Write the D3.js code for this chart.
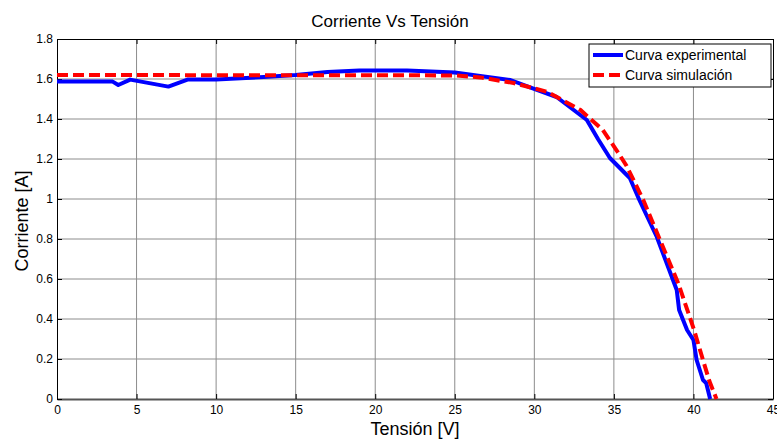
<!DOCTYPE html>
<html><head><meta charset="utf-8">
<script src="https://cdn.jsdelivr.net/npm/d3@7"></script>
<style>body{margin:0;background:#fff;} text{font-family:"Liberation Sans",Arial,sans-serif;fill:#000;}</style>
</head><body>
<svg id="c" width="777" height="439"></svg>
<script>
const title = "Corriente Vs Tensión";
const xLabel = "Tensión [V]";
const yLabel = "Corriente [A]";
const seriesNames = ["Curva experimental", "Curva simulación"];
const xTicks = [0,5,10,15,20,25,30,35,40,45];
const yTicks = [0,0.2,0.4,0.6,0.8,1,1.2,1.4,1.6,1.8];
const expV = [0, 3.5, 3.85, 4.6, 7.0, 8.2, 10, 13, 15, 17, 19, 22, 25, 26.6, 28.5, 29.9, 31.4, 33.3, 34.0, 34.75, 36.0, 36.6, 37.7, 38.95, 39.1, 39.6, 40.0, 40.2, 40.6, 40.8, 41.05];
const expI = [1.587, 1.587, 1.57, 1.597, 1.562, 1.597, 1.598, 1.61, 1.62, 1.635, 1.643, 1.643, 1.633, 1.615, 1.595, 1.553, 1.51, 1.395, 1.3, 1.205, 1.105, 0.995, 0.81, 0.545, 0.445, 0.345, 0.295, 0.195, 0.095, 0.08, 0];
const simV = [0, 25, 26.6, 28.7, 30.8, 32.9, 34.3, 35.2, 35.8, 36.85, 37.9, 39.05, 40.04, 40.6, 41.0, 41.45];
const simI = [1.62, 1.618, 1.608, 1.58, 1.536, 1.445, 1.345, 1.24, 1.165, 0.995, 0.795, 0.578, 0.345, 0.195, 0.09, 0];

const svg = d3.select("#c");
const L = 57, R = 773, T = 39, B = 399;
const x = d3.scaleLinear().domain([0,45]).range([L,R]);
const y = d3.scaleLinear().domain([0,1.8]).range([B,T]);

// grid
svg.append("g").selectAll("line").data(xTicks.slice(1,-1)).join("line")
  .attr("x1",d=>x(d)).attr("x2",d=>x(d)).attr("y1",T).attr("y2",B)
  .attr("stroke","#8c8c8c").attr("stroke-width",1);
svg.append("g").selectAll("line").data(yTicks.slice(1,-1)).join("line")
  .attr("y1",d=>y(d)).attr("y2",d=>y(d)).attr("x1",L).attr("x2",R)
  .attr("stroke","#8c8c8c").attr("stroke-width",1);

// axes
const fmt = d => String(d);
const xa = svg.append("g").attr("transform",`translate(0,${B})`)
  .call(d3.axisBottom(x).tickValues(xTicks).tickFormat(fmt).tickSizeInner(-5).tickSizeOuter(0).tickPadding(8));
const xt = svg.append("g").attr("transform",`translate(0,${T})`)
  .call(d3.axisTop(x).tickValues(xTicks).tickFormat("").tickSizeInner(-5).tickSizeOuter(0));
const ya = svg.append("g").attr("transform",`translate(${L},0)`)
  .call(d3.axisLeft(y).tickValues(yTicks).tickFormat(fmt).tickSizeInner(-5).tickSizeOuter(0).tickPadding(4));
const yr = svg.append("g").attr("transform",`translate(${R},0)`)
  .call(d3.axisRight(y).tickValues(yTicks).tickFormat("").tickSizeInner(-5).tickSizeOuter(0));
[xa,xt,ya,yr].forEach(g=>{
  g.select(".domain").attr("stroke","#000").attr("stroke-width",1);
  g.selectAll(".tick line").attr("stroke","#000");
  g.selectAll(".tick text").attr("font-size",12).attr("font-family","Liberation Sans, Arial, sans-serif").attr("fill","#000");
});
xa.select(".domain").attr("stroke","#555").attr("stroke-width",2);
xa.selectAll(".tick text").attr("dy","0.6em");

// lines
const line = d3.line().x(d=>x(d[0])).y(d=>y(d[1]));
const expData = expV.map((v,i)=>[v,expI[i]]);
const simData = simV.map((v,i)=>[v,simI[i]]);
svg.append("path").datum(expData).attr("d",line).attr("fill","none")
  .attr("stroke","#0000ff").attr("stroke-width",4).attr("stroke-linejoin","round");
svg.append("path").datum(simData).attr("d",line).attr("fill","none")
  .attr("stroke","#ff0000").attr("stroke-width",4).attr("stroke-dasharray","11,5");

// title & labels
svg.append("text").attr("x",390).attr("y",27).attr("text-anchor","middle")
  .attr("font-size",17).text(title);
svg.append("text").attr("x",(L+R)/2).attr("y",435).attr("text-anchor","middle")
  .attr("font-size",18).text(xLabel);
svg.append("text").attr("transform",`translate(28,${(T+B)/2 + 2}) rotate(-90)`).attr("text-anchor","middle")
  .attr("font-size",18).text(yLabel);

// legend
const lg = svg.append("g");
lg.append("rect").attr("x",589).attr("y",44).attr("width",182).attr("height",43)
  .attr("fill","#fff").attr("stroke","#000").attr("stroke-width",1);
const colors = ["#0000ff","#ff0000"];
const dashes = [null,"11,5"];
seriesNames.forEach((n,i)=>{
  const yy = 55 + i*20;
  lg.append("line").attr("x1",593).attr("x2",623).attr("y1",yy).attr("y2",yy)
    .attr("stroke",colors[i]).attr("stroke-width",4).attr("stroke-dasharray",dashes[i]);
  lg.append("text").attr("x",625).attr("y",yy+5).attr("font-size",14).text(n);
});
</script>
</body></html>
